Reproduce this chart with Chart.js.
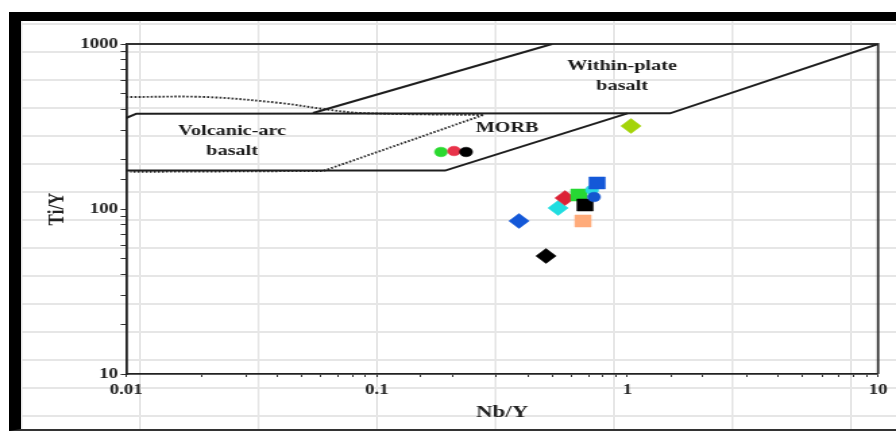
<!DOCTYPE html>
<html lang="en">
<head>
    <meta charset="UTF-8">
    <title>Ti/Y vs Nb/Y discrimination diagram</title>
    <script src="https://cdn.jsdelivr.net/npm/chart.js@4.4.1/dist/chart.umd.min.js"></script>
    <style>
        * {
            margin: 0;
            padding: 0;
            box-sizing: border-box;
        }

        body {
            width: 896px;
            height: 431px;
            overflow: hidden;
            background: #fff;
            position: relative;
        }

        /* thick black frame with the spreadsheet grid behind the plot */
        .frame {
            position: absolute;
            left: 9px;
            top: 12px;
            width: 900px;
            height: 419px;
            border-left: 12px solid #000;
            border-top: 9px solid #000;
            border-bottom: 2px solid #333;
            background-color: #fff;
            background-image:
                linear-gradient(to right, #e6e6e6 2px, transparent 2px),
                linear-gradient(to bottom, #e6e6e6 2px, transparent 2px);
            background-size: 118.5px 100%, 100% 28px;
            background-position: 118px 0, 0 2px;
        }

        /* the original picture is stretched sideways, so the chart is too */
        .chart-box {
            position: absolute;
            left: 0;
            top: 0;
            width: 664px;
            height: 431px;
            transform: scaleX(1.3494);
            transform-origin: 0 0;
        }
    </style>
</head>
<body>
    <div class="frame"></div>
    <div class="chart-box">
        <canvas id="chart"></canvas>
    </div>

    <script>
        // Tick labels
        const xMajor = [0.01, 0.1, 1, 10];
        const xMajorLabels = ['0.01', '0.1', '1', '10'];
        const yMajor = [10, 100, 1000];
        const yMajorLabels = ['10', '100', '1000'];

        // Samples (Nb/Y, Ti/Y), drawn in this order
        const sampleNbY = [0.1805, 0.2035, 0.2272, 1.034, 0.3696, 0.4736, 0.665, 0.529, 0.564, 0.641, 0.678, 0.723, 0.736, 0.757];
        const sampleTiY = [221.6, 224.6, 221.6, 318.4, 84.6, 51.9, 84.6, 101.4, 116.6, 121.6, 105.7, 130.4, 118.2, 143.8];

        // Field boundaries (solid)
        const wpbUpperX = [0.0557, 0.5006];
        const wpbUpperY = [382, 1000];
        const wpbLowerX = [0.01, 0.011, 1.48, 10];
        const wpbLowerY = [356, 378, 380, 1000];
        const vabLowerX = [0.01, 0.1874, 1.0];
        const vabLowerY = [171, 171, 380];

        // MORB field (dotted)
        const morbTopX = [0.01, 0.021, 0.0412, 0.0611, 0.0858, 0.2656];
        const morbTopY = [477, 477, 439, 404, 382, 371];
        const morbBottomX = [0.2656, 0.0611, 0.0104];
        const morbBottomY = [371, 170, 168];

        // Marker styles
        const markerShapes = ['circle', 'circle', 'circle', 'rectRot', 'rectRot', 'rectRot', 'rect',
                              'rectRot', 'rectRot', 'rect', 'rect', 'circle', 'circle', 'rect'];
        const markerColors = ['#2bd930', '#e8334a', '#000000', '#a4d40a', '#1458d8', '#000000', '#ffab7a',
                              '#20dde0', '#dc2236', '#27d834', '#000000', '#2ad8e4', '#1456cf', '#1458d8'];
        const shapeRadius = { circle: 4.8, rectRot: 7.5, rect: 8.5 };

        const fieldLabels = [
            { text: 'Volcanic-arc', x: 0.0265, y: 297 },
            { text: 'basalt', x: 0.0265, y: 224.6 },
            { text: 'Within-plate', x: 0.952, y: 735 },
            { text: 'basalt', x: 0.952, y: 556 },
            { text: 'MORB', x: 0.331, y: 310 }
        ];

        const serif = "'Liberation Serif', 'Times New Roman', serif";
        const pairs = (xs, ys) => xs.map((v, i) => ({ x: v, y: ys[i] }));

        function boundary(xs, ys, dashed, tension) {
            return {
                type: 'line',
                data: pairs(xs, ys),
                borderColor: dashed ? '#2a2a2a' : '#1e1e1e',
                borderWidth: dashed ? 1.9 : 2,
                borderDash: dashed ? [1.6, 1.4] : [],
                pointRadius: 0,
                tension: tension || 0,
                fill: false
            };
        }

        const plotBox = {
            id: 'plotBox',
            beforeDatasetsDraw(chart) {
                const { ctx, chartArea: a } = chart;
                ctx.save();
                ctx.strokeStyle = '#333';
                ctx.lineWidth = 1.8;
                ctx.beginPath();
                ctx.moveTo(a.left, a.top);
                ctx.lineTo(a.right, a.top);
                ctx.lineTo(a.right, a.bottom);
                ctx.stroke();
                ctx.restore();
            }
        };

        const labelPlugin = {
            id: 'fieldLabels',
            afterDatasetsDraw(chart) {
                const { ctx, scales } = chart;
                ctx.save();
                ctx.font = 'bold 15px ' + serif;
                ctx.fillStyle = '#1a1a1a';
                ctx.textAlign = 'center';
                ctx.textBaseline = 'middle';
                fieldLabels.forEach(l => {
                    ctx.fillText(l.text, scales.x.getPixelForValue(l.x), scales.y.getPixelForValue(l.y));
                });
                ctx.restore();
            }
        };

        function majorLabel(majors, labels) {
            return function (value) {
                const i = majors.findIndex(m => Math.abs(m - value) / m < 1e-6);
                return i >= 0 ? labels[i] : '';
            };
        }

        new Chart(document.getElementById('chart'), {
            type: 'scatter',
            data: {
                datasets: [
                    {
                        type: 'scatter',
                        data: pairs(sampleNbY, sampleTiY),
                        pointStyle: markerShapes,
                        pointRadius: markerShapes.map(s => shapeRadius[s]),
                        pointBackgroundColor: markerColors,
                        pointBorderColor: markerColors,
                        pointBorderWidth: 0.5
                    },
                    boundary(wpbUpperX, wpbUpperY, false),
                    boundary(wpbLowerX, wpbLowerY, false),
                    boundary(vabLowerX, vabLowerY, false),
                    boundary(morbTopX, morbTopY, true, 0.35),
                    boundary(morbBottomX, morbBottomY, true)
                ]
            },
            options: {
                responsive: true,
                maintainAspectRatio: false,
                animation: false,
                events: [],
                layout: {
                    padding: { left: 0, right: 13.3, top: 44, bottom: 0 }
                },
                plugins: {
                    legend: { display: false },
                    tooltip: { enabled: false }
                },
                scales: {
                    x: {
                        type: 'logarithmic',
                        min: 0.01,
                        max: 10,
                        afterFit(scale) { scale.height = 57; },
                        border: { display: true, color: '#222', width: 1.8 },
                        grid: { drawOnChartArea: false, drawTicks: true, tickLength: 3, tickColor: '#333' },
                        ticks: {
                            autoSkip: false,
                            maxRotation: 0,
                            padding: 5,
                            color: '#222',
                            font: { family: serif, size: 14, weight: 'bold' },
                            callback: majorLabel(xMajor, xMajorLabels)
                        },
                        title: {
                            display: true,
                            text: 'Nb/Y',
                            color: '#222',
                            font: { family: serif, size: 17, weight: 'bold' },
                            padding: { top: 0, bottom: 8 }
                        }
                    },
                    y: {
                        type: 'logarithmic',
                        min: 10,
                        max: 1000,
                        afterFit(scale) { scale.width = 93.4; },
                        border: { display: true, color: '#222', width: 1.8 },
                        grid: { drawOnChartArea: false, drawTicks: true, tickLength: 4, tickColor: '#333' },
                        ticks: {
                            autoSkip: false,
                            padding: 2,
                            color: '#222',
                            font: { family: serif, size: 14, weight: 'bold' },
                            callback: majorLabel(yMajor, yMajorLabels)
                        },
                        title: {
                            display: true,
                            text: 'Ti/Y',
                            color: '#222',
                            font: { family: serif, size: 17, weight: 'bold' },
                            padding: { top: 32, bottom: 0 }
                        }
                    }
                }
            },
            plugins: [plotBox, labelPlugin]
        });
    </script>
</body>
</html>
